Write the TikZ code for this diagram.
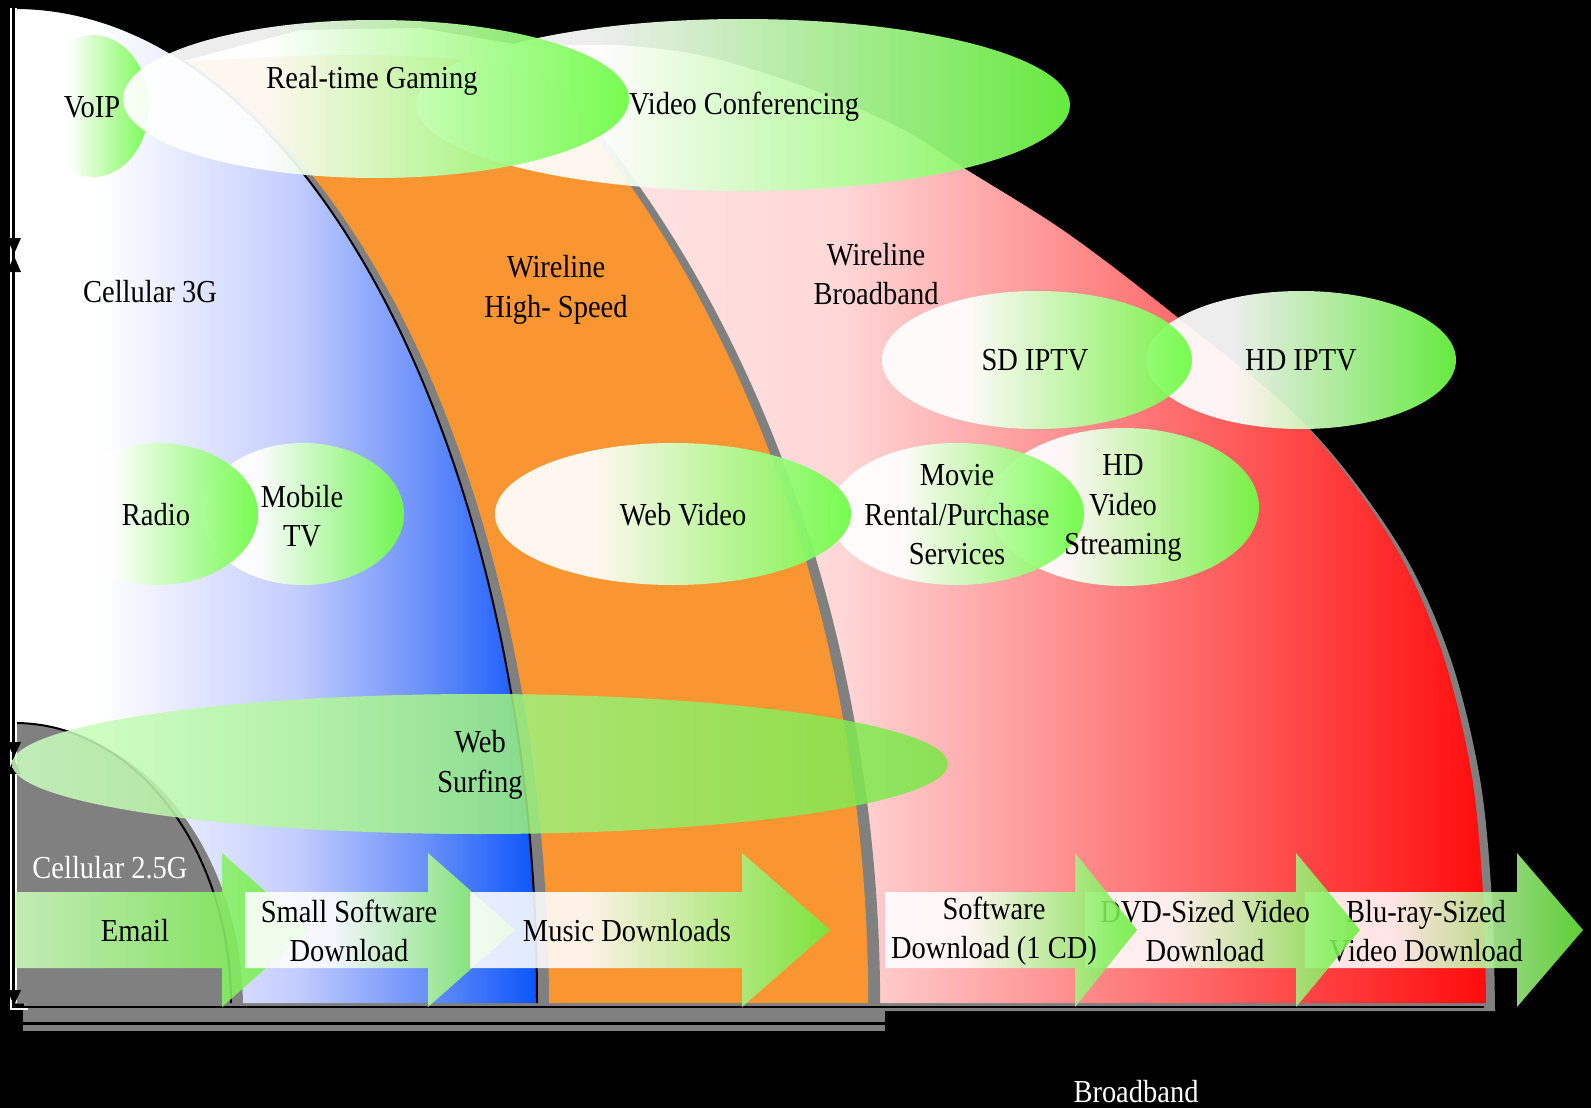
\documentclass[tikz,border=0pt]{standalone}
\usepackage{fontspec}
\setmainfont{Liberation Serif}[FakeStretch=0.89]
\definecolor{gEnd}{RGB}{110,252,68}
\definecolor{gArr}{RGB}{108,238,62}
\definecolor{paleG}{RGB}{205,250,190}
\definecolor{wsL}{RGB}{205,255,195}
\definecolor{wsR}{RGB}{120,232,68}
\definecolor{redA}{RGB}{255,215,215}
\definecolor{redB}{RGB}{255,12,12}
\definecolor{blueA}{RGB}{195,205,255}
\definecolor{blueB}{RGB}{100,140,250}
\definecolor{blueC}{RGB}{10,85,250}
\definecolor{orangeF}{RGB}{250,150,50}
\definecolor{shadowgray}{RGB}{128,128,128}
\pgfdeclarehorizontalshading{gshade}{100bp}{color(0bp)=(white); color(25bp)=(white); color(39bp)=(white); color(75bp)=(gEnd); color(100bp)=(gEnd)}
\pgfdeclarehorizontalshading{ashade}{100bp}{color(0bp)=(white); color(25bp)=(white); color(41bp)=(white); color(75bp)=(gArr); color(100bp)=(gArr)}
\pgfdeclarehorizontalshading{eshade}{100bp}{color(0bp)=(paleG); color(25bp)=(paleG); color(75bp)=(gArr); color(100bp)=(gArr)}
\pgfdeclarehorizontalshading{wsshade}{100bp}{color(0bp)=(wsL); color(25bp)=(wsL); color(75bp)=(wsR); color(100bp)=(wsR)}
\pgfdeclarehorizontalshading{redshade}{100bp}{color(0bp)=(white); color(25bp)=(white); color(53bp)=(redA); color(75bp)=(redB); color(100bp)=(redB)}
\pgfdeclarehorizontalshading{blueshade}{100bp}{color(0bp)=(white); color(25bp)=(white); color(33bp)=(white); color(52bp)=(blueA); color(65bp)=(blueB); color(75bp)=(blueC); color(100bp)=(blueC)}
\newcommand{\RedShape}[1]{\path[#1] (15,1003) -- (15,8) -- (60,12) -- (120,29) -- (180,62) -- (300,30) -- (420,28) -- (520,45) -- (620,45) -- plot[smooth,tension=0.55] coordinates {(620,45) (700,55) (800,85) (900,128) (967,170) (1067,233) (1177,317) (1300,420) (1390,538) (1441,649) (1471,771) (1483,893) (1486,1003)} -- cycle;}
\newcommand{\OrangeShape}[1]{\path[#1] (15,1003) -- (15,8) -- (60,12) -- (120,29) -- (180,62) .. controls (280,55) and (480,45) .. (546.5,80) arc[start angle=-51.47,end angle=0,x radius=853,y radius=1180] -- cycle;}
\newcommand{\BlueShape}[1]{\path[#1] (15,1003) -- (15,8) arc[start angle=-90,end angle=0,x radius=522,y radius=995] -- cycle;}
\newcommand{\GrayShape}[1]{\path[#1] (15,1003) -- (15,723) arc[start angle=-90,end angle=0,x radius=216,y radius=280] -- cycle;}
\begin{document}
\begin{tikzpicture}[x=1pt,y=-1pt,
  lbl/.style={font=\fontsize{32}{39.5}\selectfont, align=center, inner sep=0pt, text=black},
  wlbl/.style={lbl, text=white},
  ell/.style={shade, shading=gshade, fill opacity=0.93},
  arr/.style={shade, shading=ashade, fill opacity=0.88},
  tri/.style={fill=black}]
\fill[black] (0,0) rectangle (1591,1108);
\useasboundingbox (0,0) rectangle (1591,1108);
% regions with shadows
\RedShape{fill=shadowgray, shift={(9,8)}}
\RedShape{shade, shading=redshade}
\OrangeShape{fill=shadowgray, shift={(12,5)}}
\OrangeShape{fill=orangeF}
\BlueShape{fill=shadowgray, shift={(12,6)}}
\BlueShape{shade, shading=blueshade}
\draw[black,line width=2] (15,8) arc[start angle=-90,end angle=0,x radius=522,y radius=995];
\GrayShape{fill=shadowgray, shift={(12,6)}}
\GrayShape{fill=shadowgray}
\draw[black,line width=2] (15,723) arc[start angle=-90,end angle=0,x radius=216,y radius=280];
% bottom axis
\fill[shadowgray] (23,1009) rectangle (885,1022);
\fill[shadowgray] (23,1025) rectangle (885,1031);
\draw[black,line width=2] (15,1007) -- (1484,1007);
% vertical axis
\draw[white,line width=2.5] (11,8) -- (11,1009) -- (28,1009);
\draw[white,line width=2] (16,8) -- (16,1003);
\fill[tri] (7,238) -- (21,238) -- (14,254) -- cycle;
\fill[tri] (7,272) -- (21,272) -- (14,256) -- cycle;
\fill[tri] (7,742) -- (21,742) -- (14,757) -- cycle;
\fill[tri] (7,774) -- (21,774) -- (14,759) -- cycle;
\fill[tri] (7,990) -- (21,990) -- (14,1005) -- cycle;
% ellipses
\path[ell] (1301,360) ellipse [x radius=155, y radius=69];
\path[ell] (1037,360) ellipse [x radius=155, y radius=69];
\path[ell] (1124,507) ellipse [x radius=135, y radius=79];
\path[ell] (957,514) ellipse [x radius=127, y radius=71];
\path[ell] (673,514) ellipse [x radius=178, y radius=71];
\path[ell] (303,514) ellipse [x radius=101, y radius=71];
\path[ell] (157,514) ellipse [x radius=101, y radius=71];
\path[ell] (743,105) ellipse [x radius=327, y radius=86];
\path[ell] (93,106) ellipse [x radius=56, y radius=71];
\path[ell] (376,99) ellipse [x radius=253, y radius=79];
\path[ell, shading=wsshade, fill opacity=0.85] (480,764) ellipse [x radius=468, y radius=70];
% left arrows
\path[arr, shading=eshade] (15,892) -- (222,892) -- (222,853) -- (309,930) -- (222,1007) -- (222,968) -- (15,968) -- cycle;
\path[arr] (245,892) -- (428,892) -- (428,853) -- (515,930) -- (428,1007) -- (428,968) -- (245,968) -- cycle;
\path[arr] (470,892) -- (742,892) -- (742,853) -- (830,930) -- (742,1007) -- (742,968) -- (470,968) -- cycle;
% right arrows
\path[arr] (1305,892) -- (1517,892) -- (1517,853) -- (1583,930) -- (1517,1007) -- (1517,968) -- (1305,968) -- cycle;
\node[lbl] (bluray) at (1426,931) {Blu-ray-Sized\\Video Download};
\path[arr] (1085,892) -- (1296,892) -- (1296,853) -- (1360,930) -- (1296,1007) -- (1296,968) -- (1085,968) -- cycle;
\node[lbl] (dvd) at (1205,931) {DVD-Sized Video\\Download};
\path[arr] (885,892) -- (1075,892) -- (1075,853) -- (1137,930) -- (1075,1007) -- (1075,968) -- (885,968) -- cycle;
\node[lbl] (sw1cd) at (994,931) {Software\\Download (1 CD)};
% labels
\node[lbl] (voip) at (92,107) {VoIP};
\node[lbl] (gaming) at (372,81) {Real-time Gaming};
\node[lbl] (vconf) at (744,107) {Video Conferencing};
\node[lbl] (cell3g) at (150,292) {Cellular 3G};
\node[lbl] (wlhs) at (556,290) {Wireline\\High- Speed};
\node[lbl] (wlbb) at (876,274) {Wireline\\Broadband};
\node[lbl] (sdiptv) at (1035,360) {SD IPTV};
\node[lbl] (hdiptv) at (1301,360) {HD IPTV};
\node[lbl] (radio) at (156,515) {Radio};
\node[lbl] (mobtv) at (302,516) {Mobile\\TV};
\node[lbl] (webvid) at (683,515) {Web Video};
\node[lbl] (movie) at (957,515) {Movie\\Rental/Purchase\\Services};
\node[lbl] (hdvs) at (1123,508) {HD\\Video\\Streaming};
\node[lbl] (websurf) at (480,765) {Web\\Surfing};
\node[wlbl] (cell25) at (110,868) {Cellular 2.5G};
\node[lbl] (email) at (135,931) {Email};
\node[lbl] (smallsw) at (349,931) {Small Software\\Download};
\node[lbl] (music) at (627,931) {Music Downloads};
\node[wlbl] (bband) at (1136,1092) {Broadband};
\end{tikzpicture}
\end{document}
